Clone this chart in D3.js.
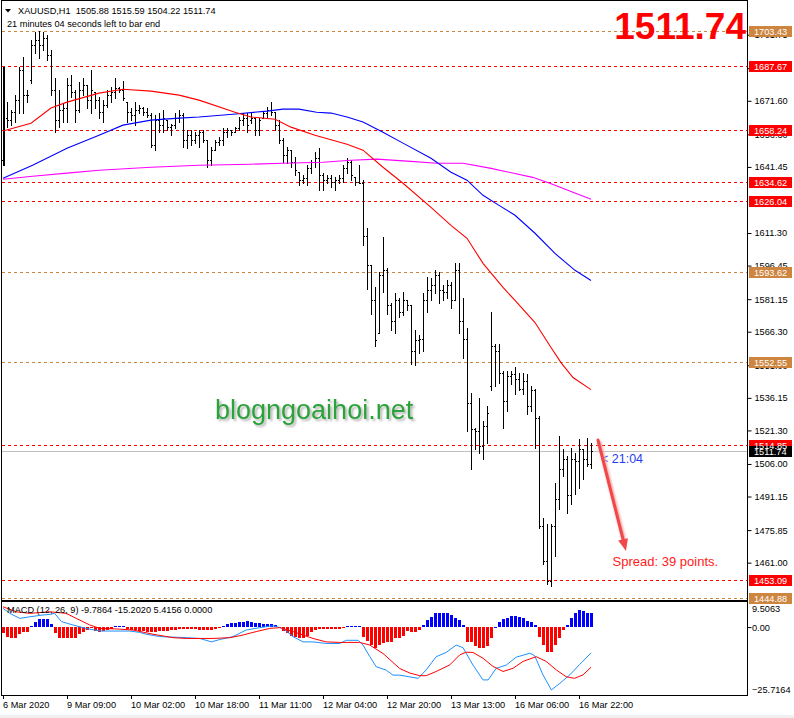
<!DOCTYPE html>
<html>
<head>
<meta charset="utf-8">
<script src="https://cdn.jsdelivr.net/npm/d3@7"></script>
<style>
  body { margin: 0; background: #fff; }
  svg { display: block; }
</style>
</head>
<body>
<svg id="chart" width="794" height="718"></svg>
<script>
// XAUUSD H1 bars, 6 Mar - 16 Mar 2020
const opens = [1644.5,1663.7,1662.8,1666.4,1671.9,1685.6,1674.2,1681.1,1697.0,1699.3,1697.0,1700.2,1692.5,1676.5,1662.8,1667.4,1668.3,1678.8,1675.6,1667.4,
  1676.5,1678.8,1671.9,1675.6,1671.9,1666.4,1669.6,1674.2,1675.6,1677.4,1676.5,1671.0,1666.4,1665.1,1667.4,1668.3,1666.4,1665.1,1651.4,1662.8,
  1660.5,1662.8,1659.6,1660.5,1663.7,1665.1,1653.6,1655.9,1653.6,1655.9,1657.3,1653.6,1644.5,1649.1,1652.7,1653.6,1657.3,1658.2,1657.3,1659.1,
  1662.8,1663.7,1662.8,1663.7,1658.2,1663.7,1666.0,1667.4,1666.4,1660.5,1653.6,1646.8,1649.1,1643.6,1639.0,1635.4,1636.3,1640.9,1643.6,1645.4,
  1637.7,1635.4,1636.3,1634.5,1635.4,1636.3,1640.9,1643.6,1636.7,1634.5,1634.0,1609.8,1596.5,1580.6,1565.9,1592.0,1594.3,1578.3,1571.4,1580.6,
  1575.1,1580.6,1578.3,1557.7,1562.3,1563.2,1580.6,1585.1,1587.4,1592.0,1585.1,1584.2,1587.4,1580.6,1594.3,1571.4,1563.2,1534.0,1522.1,1521.2,
  1514.3,1523.5,1541.7,1560.0,1557.7,1547.7,1534.9,1546.3,1547.2,1544.9,1540.4,1544.0,1532.6,1539.5,1527.1,1477.8,1461.8,1452.7,1477.8,1490.1,
  1503.8,1508.4,1491.9,1508.4,1507.5,1513.0,1508.4,1505.88];
const highs = [1687.0,1671.0,1667.4,1674.2,1687.0,1691.6,1676.5,1699.3,1703.0,1703.4,1703.0,1701.6,1694.8,1682.0,1676.5,1670.6,1682.0,1683.3,1676.5,1680.1,
  1682.0,1678.8,1685.6,1675.6,1673.3,1671.9,1676.5,1677.9,1682.0,1677.9,1680.6,1671.0,1668.3,1671.0,1669.6,1668.7,1668.3,1666.0,1665.1,1666.0,
  1667.4,1662.8,1661.0,1666.0,1667.4,1666.0,1658.2,1658.2,1657.3,1658.2,1658.2,1653.6,1650.4,1653.6,1655.0,1659.1,1659.1,1658.2,1659.6,1664.2,
  1666.0,1666.0,1666.0,1663.7,1663.7,1666.4,1668.7,1671.0,1666.4,1662.8,1654.6,1650.4,1649.1,1645.9,1639.0,1637.7,1642.2,1644.5,1648.2,1650.0,
  1638.6,1637.7,1637.7,1636.7,1637.7,1642.2,1645.4,1644.5,1636.7,1642.2,1635.4,1613.5,1596.5,1586.5,1593.4,1609.3,1595.2,1579.2,1583.8,1581.9,
  1584.2,1580.6,1578.7,1566.9,1564.6,1583.8,1591.1,1590.6,1594.3,1593.4,1587.4,1589.7,1588.8,1597.5,1597.5,1581.5,1568.2,1538.5,1522.5,1536.2,
  1525.7,1532.6,1575.1,1560.9,1560.9,1548.6,1548.6,1548.6,1550.0,1547.7,1547.7,1547.2,1541.7,1540.4,1528.0,1481.4,1478.7,1478.7,1497.4,1518.9,
  1513.0,1509.8,1513.4,1511.1,1517.5,1513.0,1518.0,1515.59];
const lows = [1642.2,1659.6,1660.5,1661.9,1666.0,1666.0,1671.0,1679.7,1693.4,1691.1,1694.8,1690.2,1674.2,1657.3,1659.6,1661.9,1661.9,1673.3,1661.9,1666.4,
  1674.2,1668.3,1666.0,1668.3,1663.7,1661.9,1668.7,1671.0,1672.8,1675.6,1671.9,1661.9,1662.8,1660.5,1666.0,1665.1,1664.2,1650.4,1649.1,1657.3,
  1657.3,1658.2,1655.9,1659.1,1661.9,1650.4,1650.0,1651.4,1652.3,1650.4,1652.7,1641.3,1642.2,1649.1,1651.4,1651.4,1655.0,1655.9,1657.3,1658.2,
  1660.5,1657.3,1661.4,1655.9,1655.9,1663.7,1663.7,1665.1,1658.2,1652.3,1643.6,1643.1,1641.3,1637.7,1633.1,1634.0,1633.1,1638.6,1641.3,1630.8,
  1630.8,1634.0,1632.2,1630.8,1634.0,1634.5,1638.6,1635.4,1633.1,1634.0,1605.7,1586.0,1574.6,1560.0,1565.9,1584.2,1574.6,1566.9,1565.5,1572.8,
  1573.7,1576.0,1551.8,1550.9,1556.4,1557.7,1575.1,1580.6,1583.8,1579.2,1580.6,1581.9,1576.9,1580.6,1565.9,1554.1,1521.2,1503.8,1513.0,1511.1,
  1508.4,1515.7,1539.5,1541.7,1543.1,1522.5,1530.3,1542.6,1538.1,1539.5,1538.1,1528.9,1530.3,1513.4,1476.9,1460.4,1451.3,1450.4,1464.1,1485.5,
  1500.6,1483.7,1487.8,1492.4,1495.1,1499.3,1505.2,1504.22];
const closes = [1663.7,1662.8,1666.4,1671.9,1685.6,1674.2,1674.2,1697.0,1699.3,1697.0,1700.2,1692.5,1676.5,1662.8,1667.4,1668.3,1678.8,1675.6,1667.4,1676.5,
  1678.8,1671.9,1676.5,1671.9,1666.4,1669.6,1674.2,1675.6,1677.4,1676.5,1672.8,1666.4,1665.1,1667.4,1668.3,1666.4,1665.1,1651.4,1662.8,1660.5,
  1663.7,1659.6,1660.5,1663.7,1665.1,1653.6,1655.9,1653.6,1655.9,1657.3,1653.6,1644.5,1649.1,1652.7,1653.6,1657.3,1658.2,1657.3,1659.1,1662.8,
  1663.7,1660.5,1663.7,1658.2,1662.8,1666.0,1667.4,1666.4,1660.5,1653.6,1646.8,1649.1,1643.6,1639.9,1635.4,1636.3,1640.9,1643.6,1645.4,1637.7,
  1635.4,1636.3,1634.5,1635.4,1636.3,1640.9,1643.6,1637.7,1634.5,1634.0,1609.8,1596.5,1580.6,1562.3,1592.0,1594.3,1578.3,1571.4,1580.6,1575.1,
  1580.6,1578.3,1557.7,1562.3,1563.2,1580.6,1585.1,1587.4,1592.0,1585.1,1584.2,1587.4,1580.6,1594.3,1571.4,1563.2,1534.0,1522.1,1521.2,1514.3,
  1523.5,1529.4,1560.0,1557.7,1547.7,1534.9,1546.3,1547.2,1544.9,1540.4,1544.0,1532.6,1539.5,1527.1,1477.8,1461.8,1452.7,1477.8,1490.1,1503.8,
  1508.4,1491.9,1508.4,1507.5,1513.0,1508.4,1505.9,1511.74];

// moving averages as [bar index, price]
const maRed = [[0,1657.8],[7,1661.4],[12,1668.3],[16,1671.0],[24,1675.1],[30,1676.9],[37,1676.0],[44,1674.2],[49,1671.9],[58,1666.4],
  [62,1664.2],[68,1663.2],[72,1659.6],[78,1655.9],[86,1651.8],[90,1649.1],[95,1641.3],[100,1634.0],[107,1623.0],[112,1614.8],
  [116,1608.9],[120,1597.5],[125,1586.5],[128,1580.6],[133,1570.5],[137,1559.1],[139.5,1552.2],[142.5,1545.4],[147,1539.9]];
const maBlue = [[0,1636.3],[7.4,1642.2],[16,1650.0],[24,1655.9],[30,1660.5],[37,1662.8],[44,1663.7],[49,1664.2],[57.5,1665.5],[66,1666.9],
  [70,1667.8],[74,1667.8],[78.4,1666.4],[82,1666.0],[86,1664.2],[90,1661.9],[95,1657.3],[100,1652.3],[107,1645.4],[112,1639.0],
  [116,1635.4],[120,1628.5],[124,1623.9],[128,1619.4],[133,1611.2],[138,1602.0],[143,1594.3],[147,1589.7]];
const maMagenta = [[0,1635.8],[7.4,1637.2],[16,1638.6],[24,1639.9],[37,1641.3],[49,1642.2],[62,1642.7],[70,1643.1],[80,1643.6],[87,1644.5],
  [93.5,1645.0],[102,1644.0],[108.4,1643.1],[115,1643.1],[121.7,1640.9],[132.4,1636.7],[136.7,1634.0],[147,1626.7]];

// horizontal levels
const redLevels = [1687.67, 1658.24, 1634.62, 1626.04, 1514.85, 1453.09];
const tanLevels = [1703.43, 1593.62, 1552.55, 1444.88];
const bidPrice = 1511.74;
const priceTicks = [1701.75,1686.45,1671.60,1656.30,1641.45,1611.30,1596.45,1581.15,1566.30,1551.00,1536.15,1521.30,1506.00,1491.15,1475.85,1461.00];

// MACD (12,26,9)
const macdHist = [-2.35,-3.6,-4.0,-4.0,-2.7,-1.7,-1.7,0.5,2.1,2.9,2.9,2.9,1.0,-2.35,-4.0,-4.3,-4.3,-4.0,-4.0,-2.7,
  -1.7,-1.1,-0.5,-1.5,-1.7,-1.5,-1.1,-0.8,0.4,0.4,0.3,-0.7,-1.1,-1.1,-1.35,-1.5,-1.7,-1.7,-1.7,-1.5,
  -1.5,-1.5,-1.1,-1.1,-0.8,-0.8,-0.8,-0.8,-0.8,-1.1,-1.1,-1.1,-1.1,-0.8,-0.5,0.5,1.0,1.4,1.7,2.1,
  2.1,2.3,2.1,1.7,1.4,1.2,1.0,1.0,0.8,-0.5,-1.5,-2.35,-3.2,-3.6,-4.0,-4.0,-3.2,-1.7,-1.1,-0.8,
  -0.8,-0.8,-0.8,-0.8,-0.8,-0.5,0.5,0.3,0.3,0.3,-3.6,-5.3,-6.8,-8.0,-6.8,-6.2,-5.6,-5.6,-4.3,-4.0,
  -3.2,-1.5,-2.0,-2.0,-1.1,0.8,2.7,4.0,5.3,5.5,5.5,5.3,4.6,3.3,2.7,0.8,-5.6,-5.6,-7.0,-8.0,
  -8.0,-7.0,-4.3,0.2,2.1,2.9,3.6,4.2,4.2,4.0,3.3,2.3,1.8,0.8,-3.6,-6.8,-9.6,-9.6,-6.8,-4.0,
  -1.1,0.8,3.3,5.3,6.3,6.2,5.5,5.4156];
const macdMain = [[0,7.1],[1.7,5.2],[4.2,3.3],[6.7,3.9],[10,4.6],[11.7,4.8],[12.9,5.2],[14.6,2.1],[17.5,0.8],[20.8,-0.5],
  [24.2,-1.5],[27.5,-1.5],[31.7,-1.5],[34.2,-2.0],[35.8,-2.7],[39.2,-3.6],[45.8,-4.0],[49.2,-4.3],[52.1,-5.6],[54.2,-4.7],
  [57.5,-3.6],[60.8,-1.1],[64.2,-0.2],[67.5,0.5],[70,-0.5],[72.5,-3.6],[75,-5.6],[77.5,-5.6],[80.8,-6.2],[84.2,-6.2],
  [85.8,-5.0],[88.8,-5.0],[90,-6.8],[91.7,-11.2],[93.3,-15.0],[95.8,-16.3],[97.5,-18.2],[99.2,-18.2],[103.8,-19.4],[105.8,-16.2],
  [108.3,-11.2],[110.8,-9.6],[113.3,-6.8],[115,-7.8],[117.5,-14.4],[120,-20.0],[121.3,-20.0],[123.3,-15.6],[125.8,-14.4],[128.3,-11.4],
  [131.7,-9.9],[132.9,-10.8],[135,-18.1],[137.1,-23.8],[139.2,-21.3],[141.7,-18.1],[144.2,-14.1],[147,-9.7864]];
const macdSignal = [[0,7.7],[3.3,5.8],[6.7,5.2],[11.7,5.8],[15.8,5.2],[18.3,3.3],[21.7,0.8],[24.2,-0.5],[28.3,-0.7],[32.5,-1.1],
  [37.5,-2.7],[42.5,-4.0],[45.8,-4.3],[52.5,-4.3],[56.7,-4.0],[60,-3.0],[63.3,-1.7],[66.7,-0.5],[69.2,-0.2],[72.5,-1.7],
  [77.5,-4.3],[80.8,-5.6],[84.2,-5.8],[89.2,-5.8],[91.7,-6.8],[95,-10.0],[99.2,-15.7],[101.7,-17.4],[104.2,-18.4],[105.8,-18.4],
  [108.3,-16.8],[111.7,-14.3],[114.2,-10.5],[115.8,-9.5],[117.5,-9.6],[120,-11.8],[122.5,-14.9],[125,-16.8],[127.5,-15.6],[130,-13.0],
  [133.3,-11.2],[135.8,-13.0],[138.3,-16.2],[140.8,-18.8],[142.9,-19.4],[145,-18.1],[147,-15.202]];
const macdTicks = [9.5063, 0, -25.7164];

// time axis
const timeTicks = [0, 16, 32, 48, 64, 80, 96, 112, 128, 144];
const timeLabels = ["6 Mar 2020","9 Mar 09:00","10 Mar 02:00","10 Mar 18:00","11 Mar 11:00","12 Mar 04:00","12 Mar 20:00","13 Mar 13:00","16 Mar 06:00","16 Mar 22:00"];

const font = '"Liberation Sans", Arial, sans-serif';
const axisX = 747.5;
const red = "#ff0000", tan = "#cd853f";

const svg = d3.select("#chart");

// scales
const x = d3.scaleLinear().domain([0, 147]).range([3, 591]);
const y = d3.scaleLinear().domain([1444.88, 1703.43]).range([598, 31]);
const ym = d3.scaleLinear().domain([-25.7164, 9.5063]).range([695, 602]);
const px = i => Math.round(x(i));
const py = v => Math.round(y(v));

const defs = svg.append("defs");
defs.append("clipPath").attr("id", "mainClip")
  .append("rect").attr("x", 2).attr("y", 1).attr("width", axisX - 2).attr("height", 598);
defs.append("filter").attr("id", "blur")
  .append("feGaussianBlur").attr("stdDeviation", 1.2);
defs.append("filter").attr("id", "shadow").attr("x", "-5%").attr("y", "-20%").attr("width", "110%").attr("height", "140%")
  .append("feDropShadow").attr("dx", 2).attr("dy", 2).attr("stdDeviation", 1.2)
  .attr("flood-color", "#777").attr("flood-opacity", 0.55);

svg.append("rect").attr("width", 794).attr("height", 718).attr("fill", "#fff");

const main = svg.append("g").attr("clip-path", "url(#mainClip)");

// dashed levels
main.append("g").selectAll("line")
  .data(redLevels.map(v => ({ v, c: red })).concat(tanLevels.map(v => ({ v, c: tan }))))
  .join("line")
  .attr("x1", 2).attr("x2", axisX)
  .attr("y1", d => py(d.v) + 0.5).attr("y2", d => py(d.v) + 0.5)
  .attr("stroke", d => d.c).attr("stroke-dasharray", "3,3");

// bid line
main.append("line")
  .attr("x1", 2).attr("x2", axisX)
  .attr("y1", py(bidPrice) + 0.5).attr("y2", py(bidPrice) + 0.5)
  .attr("stroke", "#c0c0c0");

// OHLC bars
const bars = d3.range(opens.length).map(i => ({ i, o: opens[i], h: highs[i], l: lows[i], c: closes[i] }));
const gBars = main.append("g").attr("shape-rendering", "crispEdges").attr("fill", "#000");
gBars.selectAll("rect.hl").data(bars).join("rect").attr("class", "hl")
  .attr("x", d => px(d.i)).attr("y", d => py(d.h))
  .attr("width", d => d.i === 0 ? 2 : 1).attr("height", d => Math.max(1, py(d.l) - py(d.h) + 1));
gBars.selectAll("rect.op").data(bars).join("rect").attr("class", "op")
  .attr("x", d => px(d.i) - 1).attr("y", d => py(d.o)).attr("width", 1).attr("height", 1);
gBars.selectAll("rect.cl").data(bars).join("rect").attr("class", "cl")
  .attr("x", d => px(d.i) + 1).attr("y", d => py(d.c)).attr("width", 1).attr("height", 1);

// moving averages
const maLine = d3.line().x(d => x(d[0])).y(d => y(d[1]));
[[maMagenta, "#ff00ff"], [maBlue, "#0000ff"], [maRed, "#ff0000"]].forEach(([data, col]) => {
  main.append("path").datum(data).attr("d", maLine)
    .attr("fill", "none").attr("stroke", col).attr("stroke-width", 1.1);
});

// watermark
svg.append("text").attr("x", 215).attr("y", 419)
  .attr("font-family", font).attr("font-size", 27).attr("fill", "#2aa33b")
  .attr("filter", "url(#shadow)").text("blogngoaihoi.net");

// bar timer
svg.append("text").attr("x", x(149.5)).attr("y", y(1506.3))
  .attr("font-family", font).attr("font-size", 12.5).attr("fill", "#1f3df5").text("< 21:04");

// arrow annotation
const a0 = [x(148.75), y(1516.9)], a1 = [x(155.75), y(1466.3)];
const dx = a1[0] - a0[0], dy = a1[1] - a0[1], len = Math.hypot(dx, dy);
const ux = dx / len, uy = dy / len;
const base = [a1[0] - ux * 12, a1[1] - uy * 12];
const arrow = svg.append("g");
arrow.append("line").attr("x1", a0[0] + 1).attr("y1", a0[1] + 1).attr("x2", base[0] + 1).attr("y2", base[1] + 1)
  .attr("stroke", "#f4a0a0").attr("stroke-width", 4).attr("filter", "url(#blur)");
arrow.append("line").attr("x1", a0[0]).attr("y1", a0[1]).attr("x2", base[0]).attr("y2", base[1])
  .attr("stroke", "#f04848").attr("stroke-width", 3).attr("stroke-linecap", "round");
arrow.append("polygon")
  .attr("points", [a1, [base[0] + uy * 5, base[1] - ux * 5], [base[0] - uy * 5, base[1] + ux * 5]].map(p => p.join(",")).join(" "))
  .attr("fill", "#f04848");

svg.append("text").attr("x", x(152.4)).attr("y", y(1459.6))
  .attr("font-family", font).attr("font-size", 13).attr("fill", "#ff1a1a").text("Spread: 39 points.");

// MACD histogram
const gHist = svg.append("g").attr("shape-rendering", "crispEdges");
gHist.selectAll("rect").data(macdHist.map((v, i) => ({ i, v }))).join("rect")
  .attr("x", d => px(d.i) - 1).attr("width", 3)
  .attr("y", d => Math.round(ym(Math.max(0, d.v))))
  .attr("height", d => Math.max(1, Math.round(ym(Math.min(0, d.v))) - Math.round(ym(Math.max(0, d.v)))))
  .attr("fill", d => d.v > 0 ? "#0000ff" : "#ff0000");

const macdLine = d3.line().x(d => x(d[0])).y(d => ym(d[1]));
svg.append("path").datum(macdMain).attr("d", macdLine).attr("fill", "none").attr("stroke", "#1e90ff").attr("stroke-width", 1);
svg.append("path").datum(macdSignal).attr("d", macdLine).attr("fill", "none").attr("stroke", "#ff0000").attr("stroke-width", 1);

// window frames
const frame = svg.append("g").attr("shape-rendering", "crispEdges").attr("stroke", "#000");
frame.append("line").attr("x1", 1.5).attr("x2", 1.5).attr("y1", 0).attr("y2", 695.5);
frame.append("line").attr("x1", 1.5).attr("x2", axisX).attr("y1", 0.5).attr("y2", 0.5);
frame.append("rect").attr("x", 1.5).attr("y", 600).attr("width", axisX - 1.5).attr("height", 1.5).attr("fill", "#000");
frame.append("line").attr("x1", 1.5).attr("x2", axisX).attr("y1", 695.5).attr("y2", 695.5);
frame.append("line").attr("x1", axisX).attr("x2", axisX).attr("y1", 0).attr("y2", 695.5);

// price axis
const yAxis = svg.append("g").attr("transform", `translate(${axisX},0)`)
  .call(d3.axisRight(y).tickValues(priceTicks).tickSize(4).tickPadding(3).tickFormat(d3.format(".2f")));
yAxis.select(".domain").remove();
yAxis.attr("font-family", font).attr("font-size", 9.2);

// level labels on the price axis
const boxes = redLevels.map(v => ({ v, c: red }))
  .concat(tanLevels.map(v => ({ v, c: tan })))
  .concat([{ v: bidPrice, c: "#000" }]);
const gBox = svg.append("g");
gBox.selectAll("rect").data(boxes).join("rect")
  .attr("x", 749).attr("y", d => py(d.v) - 5).attr("width", 43).attr("height", 11)
  .attr("fill", d => d.c);
gBox.selectAll("text").data(boxes).join("text")
  .attr("x", 754).attr("y", d => py(d.v) + 4)
  .attr("font-family", font).attr("font-size", 9.2).attr("fill", "#fff")
  .text(d => d3.format(".2f")(d.v));

// MACD axis
const mFmt = d => d === 0 ? "0.00" : d3.format(".4f")(d);
const mAxis = svg.append("g").attr("transform", `translate(${axisX},0)`)
  .call(d3.axisRight(ym).tickValues(macdTicks).tickSize(4).tickPadding(0.5).tickFormat(mFmt));
mAxis.select(".domain").remove();
mAxis.attr("font-family", font).attr("font-size", 9.2);
mAxis.selectAll(".tick").filter(d => d !== 0).select("line").remove();
mAxis.selectAll(".tick").filter(d => d === macdTicks[0]).select("text").attr("dy", "1.05em");
mAxis.selectAll(".tick").filter(d => d === macdTicks[2]).select("text").attr("dy", "-0.25em");

// time axis
const xAxis = svg.append("g").attr("transform", "translate(0,695)")
  .call(d3.axisBottom(x).tickValues(timeTicks).tickSize(4).tickPadding(2.5).tickFormat((d, i) => timeLabels[i]));
xAxis.select(".domain").remove();
xAxis.attr("font-family", font).attr("font-size", 9.2);
xAxis.selectAll("text").attr("text-anchor", "start").attr("dx", -0.5);

// status strip
svg.append("rect").attr("x", 0).attr("y", 715).attr("width", 794).attr("height", 3).attr("fill", "#f0f0f0");

// header
svg.append("polygon").attr("points", "5,9 11,9 8,12.5").attr("fill", "#000");
svg.append("text").attr("x", 18).attr("y", 14)
  .attr("font-family", font).attr("font-size", 9.2).attr("fill", "#000")
  .attr("xml:space", "preserve").text("XAUUSD,H1  1505.88 1515.59 1504.22 1511.74");
svg.append("text").attr("x", 7).attr("y", 27)
  .attr("font-family", font).attr("font-size", 9.2).attr("fill", "#000")
  .text("21 minutes 04 seconds left to bar end");
svg.append("text").attr("x", 7).attr("y", 613)
  .attr("font-family", font).attr("font-size", 9.2).attr("fill", "#000")
  .text("MACD (12, 26, 9) -9.7864 -15.2020 5.4156 0.0000");

// big last price
svg.append("text").attr("x", 746).attr("y", 38.5).attr("text-anchor", "end")
  .attr("font-family", font).attr("font-size", 37).attr("font-weight", "bold").attr("fill", "#ff0000")
  .text("1511.74");
</script>
</body>
</html>
